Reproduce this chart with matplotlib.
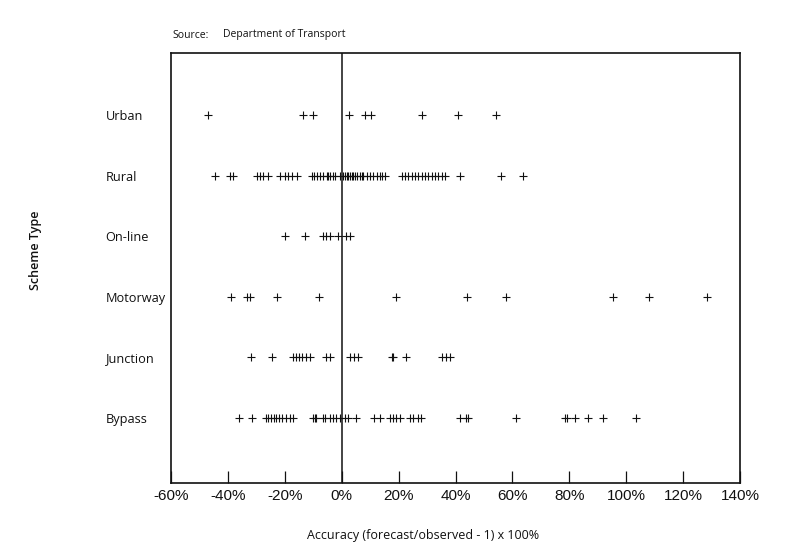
import matplotlib
matplotlib.use("Agg")
import matplotlib.pyplot as plt
from matplotlib.ticker import FuncFormatter

categories = ["Bypass", "Junction", "Motorway", "On-line", "Rural", "Urban"]

urban = [-47.0, -13.6, -10.1, 2.6, 8.3, 10.4, 28.2, 40.9, 54.1]
rural = [-44.7, -39.4, -38.3, -29.9, -28.8, -27.8, -26.0, -21.8, -20.0, -19.0,
         -17.6, -15.8, -10.6, -9.8, -8.8, -7.7, -6.7, -5.3, -4.9, -4.2, -3.2,
         -2.5, -0.7, 0.4, 1.1, 1.8, 2.1, 2.8, 3.5, 3.9, 4.6, 5.3, 6.3, 7.0, 7.4,
         8.8, 9.8, 10.9, 12.3, 13.4, 14.1, 15.1, 21.1, 22.2, 23.2, 24.6, 25.7,
         26.7, 28.1, 29.2, 30.2, 31.7, 32.7, 33.8, 35.2, 36.2, 41.5, 55.9, 63.7]
online = [-20.0, -13.0, -6.6, -5.4, -4.2, -1.3, 1.6, 2.8]
motorway = [-38.8, -33.3, -32.1, -22.6, -8.0, 19.2, 43.9, 57.9, 95.4, 108.1, 128.3]
junction = [-31.8, -24.5, -17.1, -16.2, -15.0, -13.8, -12.4, -11.3, -5.4, -4.2,
            2.8, 4.2, 5.7, 17.7, 18.0, 22.7, 35.1, 36.6, 38.0]
bypass = [-36.2, -31.4, -26.7, -25.9, -25.0, -23.9, -23.0, -22.0, -20.9, -19.5,
          -18.0, -17.1, -10.1, -9.5, -8.9, -6.6, -5.7, -4.2, -3.0, -1.9, -0.7,
          1.1, 2.2, 4.9, 11.4, 13.4, 16.9, 18.0, 19.2, 20.4, 23.9, 25.1, 26.8,
          28.0, 41.5, 43.6, 44.4, 61.4, 78.4, 79.2, 81.9, 86.6, 91.7, 103.3]

series = {"Bypass": bypass, "Junction": junction, "Motorway": motorway,
          "On-line": online, "Rural": rural, "Urban": urban}

x_ticks = [-60, -40, -20, 0, 20, 40, 60, 80, 100, 120, 140]

fig = plt.figure(figsize=(7.86, 5.5), dpi=100)
ax = fig.add_axes([171/786, 1-483/550, (740-171)/786, (483-53)/550])

for i, cat in enumerate(categories):
    vals = series[cat]
    ax.plot(vals, [i]*len(vals), linestyle="none", marker="+", markersize=5.5,
            markeredgewidth=0.8, color="#111111")

ax.axvline(0, color="#111111", lw=1.1)
ax.set_xlim(-60, 140)
ax.set_ylim(-1.07, 6.02)

ax.set_xticks(x_ticks)
ax.xaxis.set_major_formatter(FuncFormatter(lambda v, p: f"{int(v)}%"))
ax.tick_params(axis="x", direction="in", length=9, width=0.9, pad=4,
               labelsize=11, colors="#111111")
for lab in ax.get_xticklabels():
    lab.set_family("Liberation Sans")

ax.set_yticks(range(len(categories)))
ax.set_yticklabels(categories, family="Open Sans", fontsize=9.2, ha="left",
                   color="#111111")
ax.tick_params(axis="y", length=0, pad=47)

for s in ax.spines.values():
    s.set_linewidth(1.2)
    s.set_color("#111111")

fig.text(423/786, 1-536/550, "Accuracy (forecast/observed - 1) x 100%",
         family="Open Sans", fontsize=9, ha="center", va="center",
         color="#111111")
fig.text(35/786, 1-250/550, "Scheme Type", rotation=90, family="Open Sans",
         fontsize=9, fontweight="semibold", ha="center", va="center",
         color="#111111")
fig.text(172/786, 1-35/550, "Source:", family="Open Sans", fontsize=7.5,
         ha="left", va="center", color="#111111")
fig.text(223/786, 1-35/550, "Department of Transport", family="Open Sans",
         fontsize=7.5, ha="left", va="center", color="#111111")

fig.savefig("out.png", dpi=100)
